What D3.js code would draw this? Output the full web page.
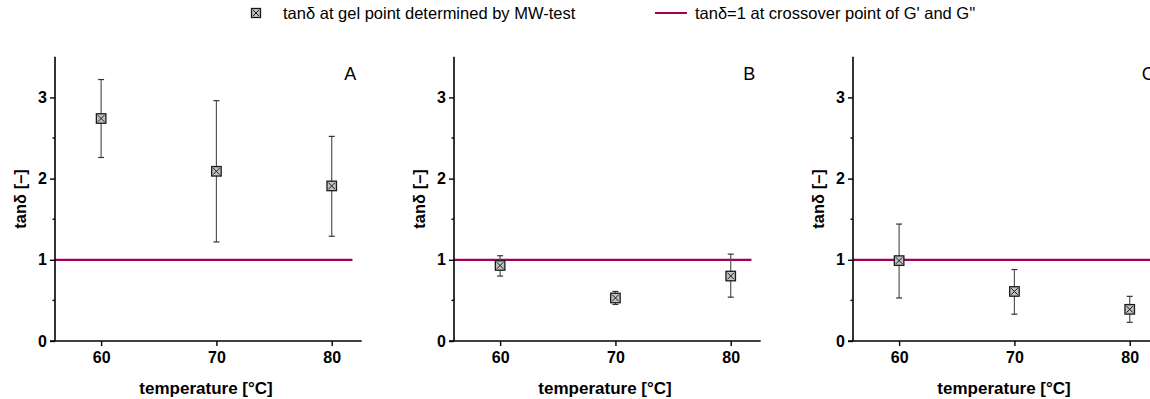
<!DOCTYPE html>
<html>
<head>
<meta charset="utf-8">
<script src="https://cdn.jsdelivr.net/npm/d3@7"></script>
<style>
  body { margin: 0; background: #fff; }
  svg { display: block; font-family: "Liberation Sans", Arial, sans-serif; }
</style>
</head>
<body>
<div id="chart"></div>
<script>
var width  = 1150;
var height = 399;

// data
var temperatures = [60, 70, 80];
var panelLabels = ["A", "B", "C"];
var meanA = [2.74, 2.09, 1.91];
var lowA  = [2.26, 1.22, 1.29];
var highA = [3.22, 2.96, 2.52];
var meanB = [0.93, 0.53, 0.80];
var lowB  = [0.80, 0.45, 0.54];
var highB = [1.05, 0.61, 1.07];
var meanC = [0.99, 0.61, 0.39];
var lowC  = [0.53, 0.33, 0.23];
var highC = [1.44, 0.88, 0.55];
var yTicks = [0, 1, 2, 3];
var yMinorTicks = [0.5, 1.5, 2.5];
var crossover = 1;

var legendLabels = ["tan\u03B4 at gel point determined by MW-test",
                    "tan\u03B4=1 at crossover point of G' and G''"];

var lineColor = "#a1005a";

var panels = [
  {label: panelLabels[0], mean: meanA, low: lowA, high: highA},
  {label: panelLabels[1], mean: meanB, low: lowB, high: highB},
  {label: panelLabels[2], mean: meanC, low: lowC, high: highC}
];

var svg = d3.select("#chart").append("svg")
  .attr("width", width)
  .attr("height", height);

var axisLeft = [55, 454, 853];
var plotW = 306.7;
var yTop = 56.8, yBottom = 341;

var y = d3.scaleLinear().domain([0, 3.5]).range([yBottom, yTop]);

// draws one cross-in-square marker
function drawMarker(g, cx, cy, s) {
  g.append("rect")
    .attr("x", cx - s / 2).attr("y", cy - s / 2)
    .attr("width", s).attr("height", s)
    .style("fill", "#c2c2c2").style("stroke", "#1a1a1a").style("stroke-width", 1.3);
  var d = s / 2 - 1.5;
  g.append("path")
    .attr("d", "M" + (cx - d) + "," + (cy - d) + "L" + (cx + d) + "," + (cy + d) +
               "M" + (cx + d) + "," + (cy - d) + "L" + (cx - d) + "," + (cy + d))
    .style("stroke", "#1a1a1a").style("stroke-width", 1);
}

panels.forEach(function(p, i) {
  var x = d3.scaleLinear().domain([56, 82.6]).range([axisLeft[i], axisLeft[i] + plotW]);
  var g = svg.append("g");

  // crossover line
  g.append("line")
    .attr("x1", x(56)).attr("x2", x(81.8))
    .attr("y1", y(crossover)).attr("y2", y(crossover))
    .style("stroke", lineColor).style("stroke-width", 2.2);

  // y axis
  var yAxis = g.append("g")
    .attr("transform", "translate(" + axisLeft[i] + ",0)")
    .call(d3.axisLeft(y).tickValues(yTicks).tickSize(5).tickPadding(3).tickFormat(d3.format("d")));
  yAxis.select(".domain").attr("d", "M0," + yTop + "V" + yBottom)
    .style("stroke-width", 1.6);
  yAxis.selectAll(".tick line").style("stroke-width", 1.4);
  yAxis.selectAll(".tick text").style("font-size", "16px").style("font-weight", "bold")
    .style("font-family", "'Liberation Sans', Arial, sans-serif").attr("fill", "#000");
  yAxis.selectAll(".minor")
    .data(yMinorTicks).enter().append("line")
    .attr("x1", -2.5).attr("x2", 0)
    .attr("y1", function(d) { return y(d); }).attr("y2", function(d) { return y(d); })
    .style("stroke", "#000").style("stroke-width", 1.4);

  // x axis
  var xAxis = g.append("g")
    .attr("transform", "translate(0," + yBottom + ")")
    .call(d3.axisBottom(x).tickValues(temperatures).tickSize(5).tickPadding(6).tickFormat(d3.format("d")));
  xAxis.select(".domain").attr("d", "M" + (axisLeft[i] - 5) + ",0H" + x(82.6))
    .style("stroke-width", 1.6);
  xAxis.selectAll(".tick line").style("stroke-width", 1.4);
  xAxis.selectAll(".tick text").style("font-size", "16px").style("font-weight", "bold")
    .style("font-family", "'Liberation Sans', Arial, sans-serif").attr("fill", "#000");

  // axis titles
  g.append("text")
    .attr("x", x(69.1)).attr("y", 394)
    .attr("text-anchor", "middle")
    .style("font-size", "17px").style("font-weight", "bold")
    .text("temperature [\u00B0C]");
  g.append("text")
    .attr("transform", "translate(" + (axisLeft[i] - 29) + "," + y(1.75) + ") rotate(-90)")
    .attr("text-anchor", "middle")
    .style("font-size", "16.5px").style("font-weight", "bold")
    .text("tan\u03B4 [\u2013]");

  // panel letter
  g.append("text")
    .attr("x", x(81.6)).attr("y", 80)
    .attr("text-anchor", "middle")
    .style("font-size", "18px")
    .text(p.label);

  // error bars
  temperatures.forEach(function(t, j) {
    var cx = x(t);
    g.append("line")
      .attr("x1", cx).attr("x2", cx)
      .attr("y1", y(p.low[j])).attr("y2", y(p.high[j]))
      .style("stroke", "#555").style("stroke-width", 1.2);
    [p.low[j], p.high[j]].forEach(function(v) {
      g.append("line")
        .attr("x1", cx - 3).attr("x2", cx + 3)
        .attr("y1", y(v)).attr("y2", y(v))
        .style("stroke", "#333").style("stroke-width", 1.2);
    });
    drawMarker(g, cx, y(p.mean[j]), 9.5);
  });
});

// legend
var legend = svg.append("g");
drawMarker(legend, 256, 13, 9);
legend.append("text")
  .attr("x", 283).attr("y", 19)
  .style("font-size", "16.5px")
  .text(legendLabels[0]);
legend.append("line")
  .attr("x1", 655).attr("x2", 687).attr("y1", 13).attr("y2", 13)
  .style("stroke", lineColor).style("stroke-width", 2);
legend.append("text")
  .attr("x", 695).attr("y", 19)
  .style("font-size", "16.5px")
  .text(legendLabels[1]);
</script>
</body>
</html>
